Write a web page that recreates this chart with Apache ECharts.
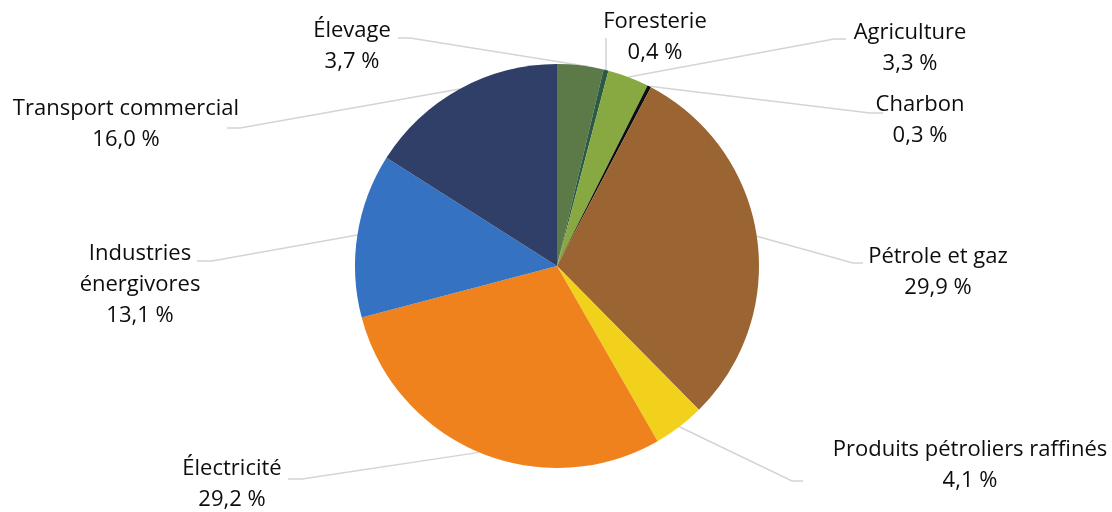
<!DOCTYPE html>
<html>
<head>
<meta charset="utf-8">
<script src="https://cdn.jsdelivr.net/npm/echarts@6/dist/echarts.min.js"></script>
<style>
  html, body { margin: 0; padding: 0; background: #ffffff; }
  #chart { width: 1112px; height: 512px; }
</style>
</head>
<body>
<div id="chart"></div>
<script>
// Emission shares by sector (%), clockwise from 12 o'clock
const sectors = [
  'Élevage', 'Foresterie', 'Agriculture', 'Charbon', 'Pétrole et gaz',
  'Produits pétroliers raffinés', 'Électricité', 'Industries énergivores',
  'Transport commercial'
];
const shares = [3.7, 0.4, 3.3, 0.3, 29.9, 4.1, 29.2, 13.1, 16.0];

const sectorColors = [
  '#5b7a48', '#2d5a45', '#88a941', '#0d0d0d', '#9a6533',
  '#f2d11c', '#f0821e', '#3572c2', '#303f68'
];

// Label block centre, and the leader line's knee and end point beside the text
const labelSpots = [
  { x: 352, y: 46,  knee: [410, 38],  end: [398, 38] },
  { x: 655, y: 37,  knee: [606, 44],  end: [606, 38] },
  { x: 910, y: 48,  knee: [834, 39],  end: [846, 39] },
  { x: 920, y: 120, knee: [870, 113], end: [883, 113] },
  { x: 938, y: 272, knee: [853, 263], end: [863, 263] },
  { x: 970, y: 465, knee: [792, 481], end: [803, 481] },
  { x: 232, y: 484, knee: [302, 479], end: [288, 479] },
  { x: 140, y: 285, knee: [212, 261], end: [197, 261] },
  { x: 126, y: 124, knee: [240, 128], end: [227, 128] }
];

const wrapped = { 'Industries énergivores': 'Industries\nénergivores' };

const chart = echarts.init(document.getElementById('chart'), null, { renderer: 'canvas' });

chart.setOption({
  animation: false,
  backgroundColor: '#ffffff',
  series: [{
    type: 'pie',
    center: [557, 266],
    radius: 202,
    startAngle: 90,
    clockwise: true,
    avoidLabelOverlap: false,
    data: sectors.map((name, i) => ({
      name: name,
      value: shares[i],
      itemStyle: { color: sectorColors[i] }
    })),
    itemStyle: { borderWidth: 0 },
    label: {
      show: true,
      position: 'outside',
      fontFamily: '"Open Sans", "Noto Sans", sans-serif',
      fontSize: 22,
      lineHeight: 31,
      color: '#0d0d0d',
      align: 'center',
      formatter: p => (wrapped[p.name] || p.name) + '\n' +
        p.value.toFixed(1).replace('.', ',') + ' %'
    },
    labelLine: {
      show: true,
      lineStyle: { color: '#d4d4d4', width: 1.5 }
    },
    labelLayout: function (params) {
      const spot = labelSpots[params.dataIndex];
      const start = params.labelLinePoints[0];
      return {
        x: spot.x,
        y: spot.y,
        align: 'center',
        verticalAlign: 'middle',
        labelLinePoints: [start, spot.knee, spot.end]
      };
    },
    emphasis: { disabled: true }
  }]
});
</script>
</body>
</html>
